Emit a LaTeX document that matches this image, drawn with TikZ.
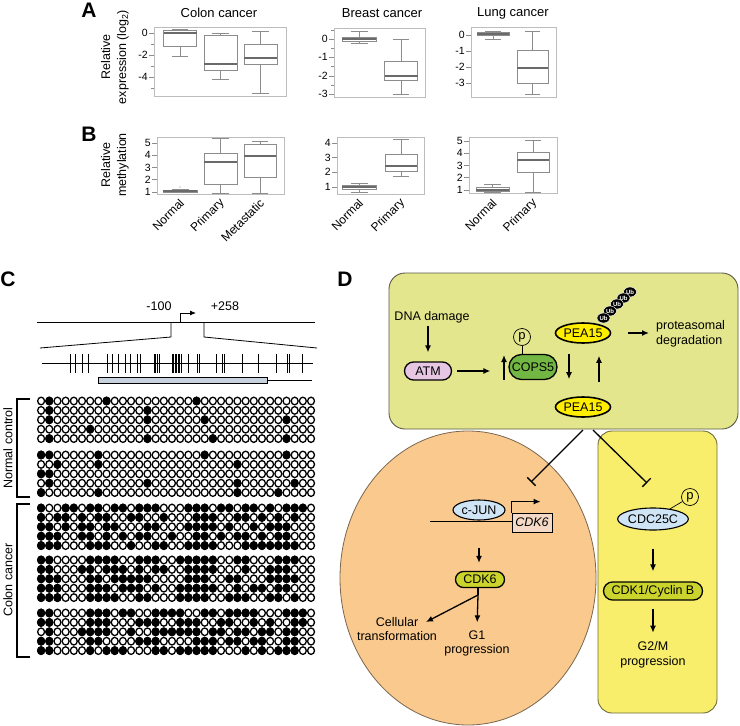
\documentclass[tikz,border=0pt]{standalone}
\usepackage{fontspec}
\setmainfont{Liberation Sans}
\usetikzlibrary{arrows.meta,shapes.geometric,shapes.misc}
\definecolor{frameg}{HTML}{BDBDBD}
\definecolor{bpg}{HTML}{8C8C8C}
\definecolor{medg}{HTML}{6A6A6A}
\definecolor{topbg}{HTML}{E3E68C}
\definecolor{cellbg}{HTML}{FAC98D}
\definecolor{rightbg}{HTML}{F8EE6C}
\definecolor{atmc}{HTML}{E6C6E3}
\definecolor{copsc}{HTML}{72B644}
\definecolor{peac}{HTML}{FFEE00}
\definecolor{bluec}{HTML}{CFE4F4}
\definecolor{cdkc}{HTML}{CBD42C}
\definecolor{genec}{HTML}{F4DAC6}
\definecolor{barc}{HTML}{C8D2DE}
\definecolor{tbd}{HTML}{5A5A4A}
\definecolor{cellbd}{HTML}{7A6650}
\definecolor{rbd}{HTML}{6E6C3A}
\newcommand\bxp[7]{%
 \draw[bpl] (#1-#2,#4) rectangle (#1+#2,#6);
 \draw[bpl] (#1,#4) -- (#1,#3) (#1-#2/2,#3) -- (#1+#2/2,#3);
 \draw[bpl] (#1,#6) -- (#1,#7) (#1-#2/2,#7) -- (#1+#2/2,#7);
 \draw[bpm] (#1-#2,#5) -- (#1+#2,#5);}
\newcommand\ytk[3]{\draw[bpl] (#1-5,#2) -- (#1,#2); \node[tkl, anchor=east] (ytick) at (#1-6,#2) {#3};}
\newcommand\ymn[2]{\draw[bpl] (#1-3,#2) -- (#1,#2);}
\newcommand\xlbl[2]{\node[xlabst] (xlab) at (#1+2,201) {#2};}
\begin{document}
\begin{tikzpicture}[x=1pt,y=-1pt,
 plab/.style={font=\fontsize{21}{21}\selectfont\bfseries, inner sep=0pt},
 ttl/.style={font=\fontsize{13}{15}\selectfont, inner sep=0pt},
 tkl/.style={font=\fontsize{10.5}{12}\selectfont, inner sep=0pt},
 xlabst/.style={font=\fontsize{12}{14}\selectfont, inner sep=0pt, anchor=east, rotate=45},
 ylb/.style={font=\fontsize{12.5}{16}\selectfont, inner sep=0pt, align=center, rotate=90},
 frm/.style={draw=frameg, line width=1pt},
 bpl/.style={draw=bpg, line width=0.7pt},
 bpm/.style={draw=medg, line width=1.1pt},
 ctxt/.style={font=\fontsize{12.5}{15}\selectfont, inner sep=1pt, align=center},
 cpg/.style={draw=black, line width=1.3pt},
 dtxt/.style={font=\fontsize{12.5}{14.5}\selectfont, inner sep=1pt, align=center},
 pill/.style={rounded rectangle, draw=black, line width=1.3pt, font=\fontsize{12.5}{14}\selectfont, inner sep=1pt},
 oval/.style={ellipse, draw=black, line width=1.1pt, font=\fontsize{12.5}{14}\selectfont, inner sep=0pt},
 pcst/.style={circle, draw=black, line width=0.7pt, minimum size=17pt, inner sep=0pt, font=\fontsize{13}{13}\selectfont},
 ubst/.style={ellipse, fill=black, draw=white, line width=0.4pt, text=white, font=\fontsize{6}{6}\selectfont\bfseries, minimum width=13pt, minimum height=10pt, inner sep=0pt},
 arr/.style={line width=1.3pt, -{Latex[length=7pt,width=6pt]}},
 inh/.style={line width=1.3pt, -{Bar[width=12pt,line width=1.3pt]}}]
\useasboundingbox (0,0) rectangle (740,726);
% ---------------- Panel A ----------------
\node[plab] (lA) at (89,10) {A};
\node[ttl] (tcolon) at (219,13) {Colon cancer};
\node[ttl] (tbreast) at (382,13) {Breast cancer};
\node[ttl] (tlung) at (513,13) {Lung cancer};
\draw[frm] (154,27) rectangle (286,96);
\draw[frm] (334,28) rectangle (425,97);
\draw[frm] (471,27) rectangle (556,97);
\ytk{154}{33}{0}\ytk{154}{55}{-2}\ytk{154}{77}{-4}
\ymn{154}{44}\ymn{154}{66}\ymn{154}{88}
\ytk{334}{39}{0}\ytk{334}{57}{-1}\ytk{334}{76}{-2}\ytk{334}{94}{-3}
\ymn{334}{30}\ymn{334}{48}\ymn{334}{66.5}\ymn{334}{85}
\ytk{471}{35}{0}\ytk{471}{51}{-1}\ytk{471}{67}{-2}\ytk{471}{83}{-3}
\bxp{180}{16.5}{56}{46}{33}{30}{29}
\bxp{220.5}{16.5}{79}{70}{64}{35}{33}
\bxp{260.5}{16.5}{93}{64}{58}{44}{31}
\bxp{359}{17}{43}{41}{39}{37}{31}
\bxp{401}{16.5}{94}{80}{76}{61}{39}
\bxp{493}{16}{39}{35}{34}{32}{31}
\bxp{532.5}{15.5}{94}{83}{68}{50}{31}
\node[ylb] (ylA) at (115,57) {Relative\\expression (log\textsubscript{2})};
% ---------------- Panel B ----------------
\node[plab] (lB) at (89,134) {B};
\draw[frm] (157,137) rectangle (284,194);
\draw[frm] (337,137) rectangle (424,194);
\draw[frm] (469,137) rectangle (557,193);
\ytk{157}{143}{5}\ytk{157}{155}{4}\ytk{157}{167.5}{3}\ytk{157}{179.5}{2}\ytk{157}{192}{1}
\ytk{337}{143}{4}\ytk{337}{157.5}{3}\ytk{337}{172.3}{2}\ytk{337}{187}{1}
\ytk{469}{141}{5}\ytk{469}{153.3}{4}\ytk{469}{165.5}{3}\ytk{469}{177.8}{2}\ytk{469}{190}{1}
\bxp{180}{17}{192}{192}{191}{190}{189}
\fill[bpg] (180,187) circle[radius=0.6pt];
\bxp{220.5}{16.5}{193}{184}{162}{153}{138}
\bxp{260}{16}{193}{177}{156}{144}{141}
\bxp{359}{17}{192}{189}{187}{185}{183}
\bxp{401}{16}{176}{171}{166}{154}{139}
\bxp{492.5}{16.5}{192}{191}{190}{187}{184}
\bxp{533}{16}{192}{172}{160}{152}{140}
\node[ylb] (ylB) at (115,165) {Relative\\methylation};
\xlbl{180}{Normal}\xlbl{220.5}{Primary}\xlbl{260}{Metastatic}
\xlbl{359}{Normal}\xlbl{401}{Primary}
\xlbl{492.5}{Normal}\xlbl{533}{Primary}
% ---------------- Panel C ----------------
\node[plab] (lC) at (8,279) {C};
\node[ctxt] (m100) at (159,306) {-100};
\node[ctxt] (p258) at (225,306) {+258};
\draw[line width=0.8pt] (37,322) -- (315,322);
\draw[line width=0.8pt, -{Latex[length=6pt,width=5pt]}] (180,322) -- (180,313) -- (196,313);
\draw[line width=0.8pt] (171,322) -- (171,337) -- (40,348);
\draw[line width=0.8pt] (204,322) -- (204,337) -- (317,348);
\draw[line width=0.8pt] (42,363) -- (313,363);
\foreach \x in {70,75,82,88,107,112,118,125,130,137,140,154,155.5,157,159,172,173.5,175,176.5,178,179.5,181,188,197,199,216,222,224,242,258,276,287,289,302}
  \draw[line width=0.6pt] (\x,354) -- (\x,373);
\draw[line width=0.7pt, fill=barc] (98,377) rectangle (267,383);
\draw[line width=0.7pt] (267,380) -- (312,380);
\foreach \ry in {401,410.4,419.8,429.2,438.6,455,464.4,473.8,483.2,492.6,508,517.4,526.8,536.2,545.6,560,569.4,578.8,588.2,597.6,613,622.4,631.8,641.2,650.6}
  \foreach \c in {0,...,33}
    \draw[cpg] ({41.1+8.18*\c},\ry) ellipse[x radius=3.45pt, y radius=3.8pt];
\foreach \ry/\l in {401/{1,8,19},410.4/{1,13},419.8/{1,13,20,30},429.2/{6},438.6/{1,13,21,30},
 455/{0,1,7,20,30},464.4/{2,7,24},473.8/{0,1},483.2/{1,13,24,31},492.6/{0,7,24,29},
 508/{0,3,4,6,7,9,10,12,13,14,18,19,20,22,23,25,26,28,30,31,32},
 517.4/{0,2,3,5,7,8,11,12,15,19,20,21,24,25,27,29,31},
 526.8/{0,1,3,5,6,8,9,13,14,18,19,20,21,23,26,28,29,30},
 536.2/{0,1,2,5,6,8,10,12,13,16,19,20,22,24,25,27,29,30},
 545.6/{0,1,2,6,7,8,11,14,15,18,19,20,21,25,26,27,28,29,30,31},
 560/{0,1,6,7,8,9,12,13,14,17,18,19,20,21,24,25,29,30,31},
 569.4/{0,1,5,6,8,9,10,12,14,15,18,19,20,21,25,28,29,30},
 578.8/{0,1,2,6,7,9,10,11,12,13,18,19,20,23,24,28,29,30,31},
 588.2/{0,1,2,6,7,8,10,11,12,14,17,18,19,20,21,24,26,27,29,30},
 597.6/{0,1,2,6,7,8,9,12,13,17,18,19,20,23,24,25,28,29,31},
 613/{0,1,6,7,8,10,11,14,15,16,17,20,21,23,24,25,26,30,31,32},
 622.4/{0,1,6,7,8,12,13,14,17,18,19,22,23,26,28,31,32},
 631.8/{1,5,6,7,8,11,14,15,16,17,18,19,21,22,24,25,27,28,30,31},
 641.2/{0,1,6,7,12,13,14,19,20,21,23,24,26,27,30,31},
 650.6/{0,1,6,8,9,10,14,15,17,18,19,20,21,25,27,29,30,31}}
  \foreach \c in \l
    \fill[black] ({41.1+8.18*\c},\ry) ellipse[x radius=4.1pt, y radius=4.45pt];
\draw[line width=1.3pt] (30,399) -- (17,399) -- (17,497) -- (30,497);
\draw[line width=1.3pt] (30,504) -- (17,504) -- (17,657) -- (30,657);
\node[ctxt, rotate=90] (lnorm) at (8,448) {Normal control};
\node[ctxt, rotate=90] (lcanc) at (8,580) {Colon cancer};
% ---------------- Panel D ----------------
\node[plab] (lD) at (345,279) {D};
\node[ellipse, draw=cellbd, fill=cellbg, line width=0.8pt, minimum width=256pt, minimum height=294pt] (cell) at (468,578) {};
\node[draw=rbd, fill=rightbg, rounded corners=14pt, line width=0.9pt, minimum width=119pt, minimum height=282pt] (rbox) at (657.5,572) {};
\node[draw=tbd, fill=topbg, rounded corners=16pt, line width=0.9pt, minimum width=349pt, minimum height=156pt] (tbox) at (563.5,351) {};
\node[dtxt] (dna) at (432,317) {DNA damage};
\node[pill, fill=atmc, minimum width=49pt, minimum height=18pt] (atm) at (428,371) {ATM};
\node[pill, fill=copsc, minimum width=50pt, minimum height=25pt] (cops) at (533,367) {COPS5};
\node[pcst] (p1) at (522,337) {p};
\node[oval, fill=peac, line width=1.6pt, minimum width=49pt, minimum height=20pt] (pea1) at (583,333) {PEA15};
\node[oval, fill=peac, line width=1.6pt, minimum width=50pt, minimum height=20pt] (pea2) at (583,407) {PEA15};
\foreach \i/\ux/\uy in {5/630/292,4/623.5/298,3/617/304,2/610/311,1/603.5/318}
  \node[ubst] (ub\i) at (\ux,\uy) {Ub};
\node[dtxt, align=left, anchor=west] (prot) at (655,334) {proteasomal\\degradation};
\coordinate (upA) at (504,380);
\coordinate (upB) at (504,355);
\draw[arr, shorten <=2pt, shorten >=9pt] (atm.north |- dna.south) -- (atm.north);
\draw[arr, shorten <=5pt, shorten >=18pt] (atm.east) -- (cops.west |- atm.east);
\draw[arr] (upA) -- (upB);
\draw[line width=0.7pt] (p1.south) -- (p1.south |- cops.north);
\draw[arr, shorten <=10pt, shorten >=17pt] ([xshift=-14pt]pea1.south) -- ([xshift=-14pt]pea2.north);
\draw[arr, shorten <=14pt, shorten >=12pt] ([xshift=16pt]pea2.north) -- ([xshift=16pt]pea1.south);
\draw[arr, shorten <=17pt, shorten >=6pt] (pea1.east) -- (prot.west |- pea1.east);
\coordinate (iA) at (583,430);
\coordinate (tA) at (531,482);
\coordinate (iB) at (593,430);
\coordinate (tB) at (647,483);
\draw[inh] (iA) -- (tA);
\draw[inh] (iB) -- (tB);
% nucleus-like ellipse content
\node[draw=black, line width=0.8pt, fill=genec, minimum width=40pt, minimum height=19pt, inner sep=0pt, font=\fontsize{12.5}{14}\selectfont\itshape] (cdk6g) at (532,522.5) {CDK6};
\coordinate (dnaL) at (430,521);
\draw[line width=1pt] (dnaL) -- (cdk6g.west |- dnaL);
\node[oval, fill=bluec, minimum width=52pt, minimum height=20pt] (cjun) at (479,510) {c-JUN};
\draw[arr] (cdk6g.north west) -- ++(0,-11) -- ++(29,0);
\node[pill, fill=cdkc, minimum width=51pt, minimum height=16pt] (cdk6p) at (480,579.5) {CDK6};
\draw[arr, shorten <=27pt, shorten >=8pt] (cjun.south) -- (cjun.south |- cdk6p.north);
\node[dtxt] (celltr) at (397,629) {Cellular\\transformation};
\node[dtxt] (g1) at (477,643.5) {G1\\progression};
\coordinate (br) at (478,595);
\coordinate (ctip) at (426,622);
\draw[line width=1.3pt] (cdk6p.south -| br) -- (br);
\draw[arr] (br) -- (ctip);
\draw[arr, shorten >=7pt] (br) -- (g1.north);
% right box content
\node[oval, fill=bluec, minimum width=64pt, minimum height=22pt] (cdc) at (653,519) {CDC25C};
\node[pcst] (p2) at (690,497) {p};
\draw[line width=0.7pt] (p2) -- (cdc);
\node[pill, fill=cdkc, minimum width=101pt, minimum height=18pt] (cdk1) at (653,591) {CDK1/Cyclin B};
\node[dtxt] (g2m) at (653,655) {G2/M\\progression};
\draw[arr, shorten <=18pt, shorten >=10pt] (cdc.south) -- (cdk1.north);
\draw[arr, shorten <=8pt, shorten >=8pt] (cdk1.south) -- (g2m.north);
\end{tikzpicture}
\end{document}
